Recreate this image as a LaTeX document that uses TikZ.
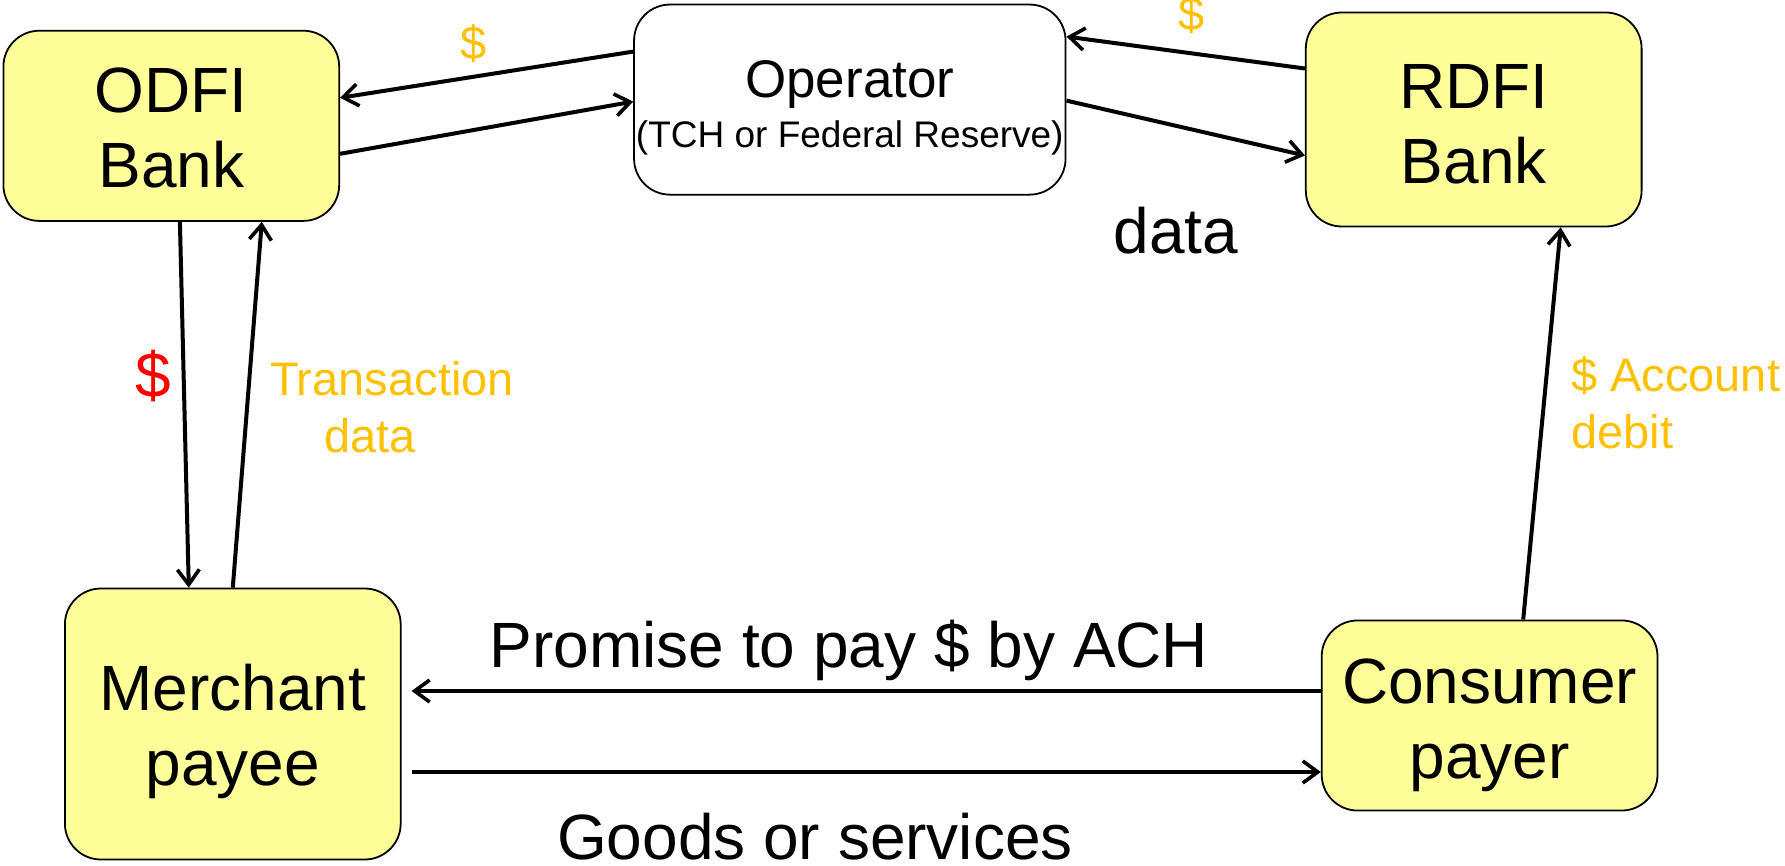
\documentclass[tikz,border=0pt]{standalone}
\usepackage{fontspec}
\setmainfont{Liberation Sans}
\usetikzlibrary{arrows.meta}
\definecolor{boxyellow}{HTML}{FFFF99}
\definecolor{gold}{HTML}{FFC000}
\begin{document}
\begin{tikzpicture}[x=1pt,y=-1pt,
  box/.style={draw=black, line width=1.8pt, rounded corners=36pt, fill=boxyellow,
    align=center, inner sep=0pt, minimum width=335.8pt,
    font=\fontsize{64}{75}\selectfont},
  conn/.style={line width=4pt, -{Straight Barb[length=15pt,width=22pt,line width=3.6pt]}},
  big/.style={inner sep=0pt, font=\fontsize{64}{75}\selectfont},
  small/.style={inner sep=0pt, text=gold, font=\fontsize{47}{57}\selectfont}]
\useasboundingbox (0,0) rectangle (1785,865);

% boxes
\node[box, minimum height=190.2pt] (odfi) at (171.3,125.8) {\rule{0pt}{49pt}ODFI\\Bank};
\node[box, fill=white, minimum width=431.5pt, minimum height=190.1pt] (op) at (849.8,99.6)
  {\fontsize{53}{60}\selectfont\rule{0pt}{53pt}Operator\\[-25pt]{\fontsize{37}{44}\selectfont (TCH or Federal Reserve)}};
\node[box, minimum height=214pt] (rdfi) at (1473.7,119.5) {\rule{0pt}{54pt}RDFI\\Bank};
\node[box, minimum height=271pt] (merch) at (232.8,724) {\rule{0pt}{61pt}Merchant\\payee};
\node[box, minimum height=190.1pt] (cons) at (1489.6,715.5) {\rule{0pt}{65pt}Consumer\\payer};

% connectors
\draw[conn] ([yshift=48]op.west) -- ([yshift=28]odfi.east);
\draw[conn] ([yshift=-28]odfi.east) -- ([yshift=-2]op.west);
\draw[conn] ([yshift=51]rdfi.west) -- ([yshift=63]op.east);
\draw[conn] ([yshift=-1]op.east) -- ([yshift=-36]rdfi.west);
\draw[conn] ([xshift=8.6]odfi.south) -- ([xshift=-44]merch.north);
\draw[conn] (merch.north) -- ([xshift=90.5]odfi.south);
\draw[conn] ([xshift=33.6]cons.north) -- ([xshift=87]rdfi.south);
\draw[conn] ([yshift=24.5]cons.west) -- ([yshift=24.5,xshift=10]cons.west -| merch.east);
\draw[conn] ([yshift=-48,xshift=10]merch.east) -- ([yshift=-48]merch.east -| cons.west);

% labels
\node[small] (d1) at (473.6,43.3) {\$};
\node[small] (d2) at (1192,14.8) {\$};
\node[big, text=red] (d3) at (153.7,375.7) {\$};
\node[small, align=left, anchor=west] (trans) at (269.8,407) {Transaction\\\hspace*{54.6pt}data};
\node[small, align=left, anchor=west] (acct) at (1571,403) {\$ Account\\debit};
\node[big] (data) at (1176,231) {data};
\node[big] (prom) at (849,650) {Promise to pay \$ by ACH};
\node[big] (goods) at (815,836.7) {Goods or services};
\end{tikzpicture}
\end{document}
